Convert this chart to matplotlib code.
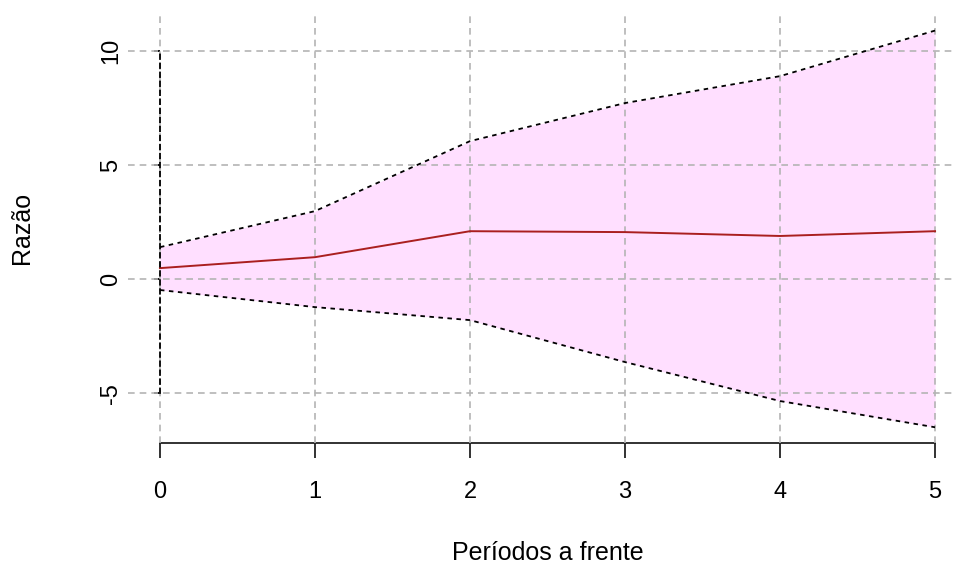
import numpy as np
from matplotlib import pyplot as plt

periods = [0, 1, 2, 3, 4, 5]
central = [0.48, 0.96, 2.10, 2.06, 1.89, 2.10]
upper = [1.40, 2.98, 6.05, 7.72, 8.90, 10.90]
lower = [-0.48, -1.23, -1.80, -3.64, -5.35, -6.50]
yticks = [-5, 0, 5, 10]

plt.rcParams['font.family'] = ['Liberation Sans', 'DejaVu Sans']
plt.rcParams['axes.unicode_minus'] = False

fig = plt.figure(figsize=(9.56, 5.65), dpi=100)
ax = fig.add_axes([128 / 956, 1 - 443 / 565, 1 - 128 / 956, (443 - 13) / 565])

ax.set_xlim(-0.206, 5.135)
ax.set_ylim(-7.19, 11.67)

for x in periods:
    ax.axvline(x, color='#b4b4b4', lw=1.2, ls=(0, (4, 3)), zorder=3)
for y in yticks:
    ax.axhline(y, color='#b4b4b4', lw=1.2, ls=(0, (4, 3)), zorder=3)

ax.fill_between(periods, lower, upper, color='#ffdfff', lw=0, zorder=1)
ax.plot(periods, upper, color='black', lw=1.3, ls=(0, (2.5, 2.5)), zorder=4)
ax.plot(periods, lower, color='black', lw=1.3, ls=(0, (2.5, 2.5)), zorder=4)
ax.plot(periods, central, color='#aa1f1f', lw=1.4, zorder=4)

for s in ['top', 'right']:
    ax.spines[s].set_visible(False)
ax.spines['left'].set_position(('data', 0))
ax.spines['left'].set_bounds(-5, 10)
ax.spines['left'].set_linestyle((0, (2.5, 2.5)))
ax.spines['left'].set_linewidth(1.3)
ax.spines['left'].set_color('black')
ax.spines['left'].set_zorder(5)
ax.spines['bottom'].set_bounds(0, 5)
ax.spines['bottom'].set_linewidth(1.3)
ax.spines['bottom'].set_color('#222222')

ax.set_xticks(periods)
ax.set_yticks(yticks)
ax.tick_params(axis='x', length=11, width=1.3, pad=16, labelsize=17, color='#222222')
ax.tick_params(axis='y', length=4, width=1.3, pad=23, labelsize=17)
for lab in ax.get_yticklabels():
    lab.set_rotation(90)
    lab.set_va('center')

fig.text(547.5 / 956, 1 - 553 / 565, 'Períodos a frente', ha='center', va='center', fontsize=18)
fig.text(22 / 956, 1 - 228 / 565, 'Razão', ha='center', va='center', rotation=90, fontsize=18)

fig.savefig('out.png', dpi=100)
